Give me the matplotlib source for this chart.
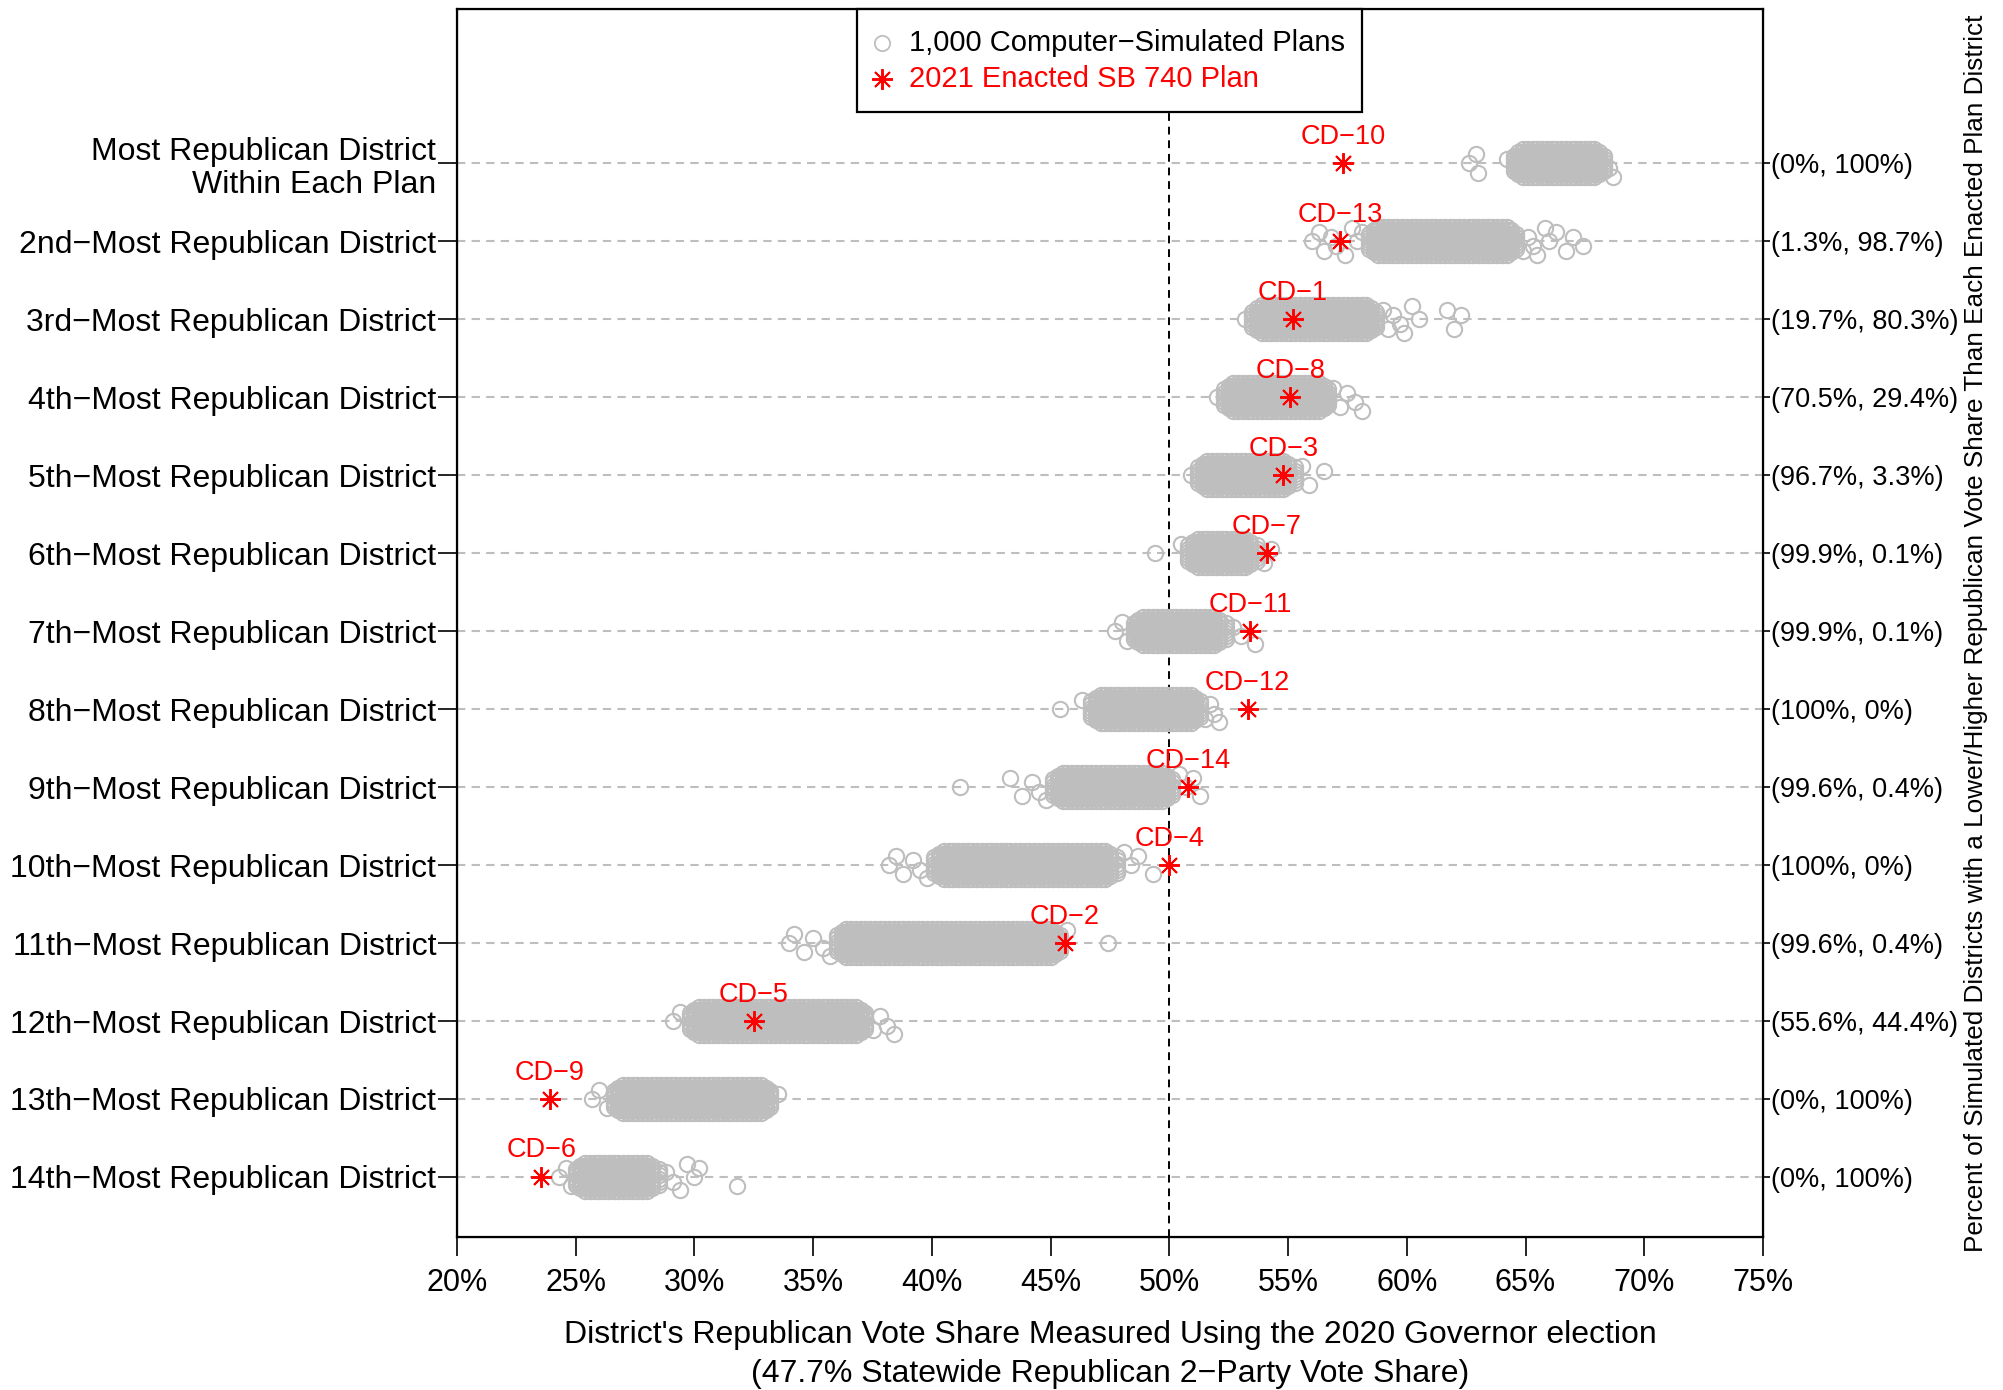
import matplotlib
matplotlib.use('Agg')
import matplotlib.pyplot as plt
from matplotlib.patches import Rectangle

plt.rcParams['font.family'] = ['Liberation Sans', 'DejaVu Sans']

# ---------------- data ----------------
row_labels = [
    "Most Republican District\nWithin Each Plan",
    "2nd\u2212Most Republican District",
    "3rd\u2212Most Republican District",
    "4th\u2212Most Republican District",
    "5th\u2212Most Republican District",
    "6th\u2212Most Republican District",
    "7th\u2212Most Republican District",
    "8th\u2212Most Republican District",
    "9th\u2212Most Republican District",
    "10th\u2212Most Republican District",
    "11th\u2212Most Republican District",
    "12th\u2212Most Republican District",
    "13th\u2212Most Republican District",
    "14th\u2212Most Republican District",
]
enacted_values = [57.3, 57.2, 55.2, 55.1, 54.8, 54.1, 53.4, 53.3, 50.8, 50.0, 45.6, 32.5, 23.9, 23.55]
enacted_labels = ["CD\u221210", "CD\u221213", "CD\u22121", "CD\u22128", "CD\u22123", "CD\u22127", "CD\u221211",
                  "CD\u221212", "CD\u221214", "CD\u22124", "CD\u22122", "CD\u22125", "CD\u22129", "CD\u22126"]
right_labels = ["(0%, 100%)", "(1.3%, 98.7%)", "(19.7%, 80.3%)", "(70.5%, 29.4%)", "(96.7%, 3.3%)",
                "(99.9%, 0.1%)", "(99.9%, 0.1%)", "(100%, 0%)", "(99.6%, 0.4%)", "(100%, 0%)",
                "(99.6%, 0.4%)", "(55.6%, 44.4%)", "(0%, 100%)", "(0%, 100%)"]
x_ticks = [20, 25, 30, 35, 40, 45, 50, 55, 60, 65, 70, 75]
x_tick_labels = ["20%", "25%", "30%", "35%", "40%", "45%", "50%", "55%", "60%", "65%", "70%", "75%"]
legend_labels = ["1,000 Computer\u2212Simulated Plans", "2021 Enacted SB 740 Plan"]

# simulated plans: dense core values and sparse outlying values per ranked district
sim_core_1 = [64.5, 64.7, 64.9, 65.1, 65.3, 65.5, 65.7, 65.9, 66.1, 66.3, 66.5, 66.7, 66.9, 67.1, 67.3,
              67.5, 67.7, 67.9, 68.1, 68.3]
sim_out_1 = [62.6, 62.9, 63.0, 64.2, 68.5, 68.7]
sim_core_2 = [58.4, 58.6, 58.8, 59.0, 59.2, 59.4, 59.6, 59.8, 60.0, 60.2, 60.4, 60.6, 60.8, 61.0, 61.2,
              61.4, 61.6, 61.8, 62.0, 62.2, 62.4, 62.6, 62.8, 63.0, 63.2, 63.4, 63.6, 63.8, 64.0, 64.2,
              64.4, 64.6]
sim_out_2 = [56.0, 56.3, 56.5, 56.8, 57.0, 57.4, 57.7, 57.9, 58.1, 64.9, 65.1, 65.3, 65.5, 65.8, 66.0,
             66.3, 66.7, 67.0, 67.4]
sim_core_3 = [53.5, 53.7, 53.9, 54.1, 54.3, 54.5, 54.7, 54.9, 55.1, 55.3, 55.5, 55.7, 55.9, 56.1, 56.3,
              56.5, 56.7, 56.9, 57.1, 57.3, 57.5, 57.7, 57.9, 58.1, 58.3, 58.5, 58.7]
sim_out_3 = [53.2, 59.0, 59.2, 59.4, 59.7, 59.9, 60.2, 60.5, 61.7, 62.0, 62.3]
sim_core_4 = [52.3, 52.5, 52.7, 52.9, 53.1, 53.3, 53.5, 53.7, 53.9, 54.1, 54.3, 54.5, 54.7, 54.9, 55.1,
              55.3, 55.5, 55.7, 55.9, 56.1, 56.3, 56.5, 56.7]
sim_out_4 = [52.0, 56.9, 57.2, 57.5, 57.8, 58.1]
sim_core_5 = [51.2, 51.4, 51.6, 51.8, 52.0, 52.2, 52.4, 52.6, 52.8, 53.0, 53.2, 53.4, 53.6, 53.8, 54.0,
              54.2, 54.4, 54.6, 54.8, 55.0, 55.3]
sim_out_5 = [50.9, 55.6, 55.9, 56.5]
sim_core_6 = [50.8, 51.0, 51.2, 51.4, 51.6, 51.8, 52.0, 52.2, 52.4, 52.6, 52.8, 53.0, 53.2, 53.4, 53.7]
sim_out_6 = [49.4, 50.5, 54.0, 54.3]
sim_core_7 = [48.5, 48.7, 48.9, 49.1, 49.3, 49.5, 49.7, 49.9, 50.1, 50.3, 50.5, 50.7, 50.9, 51.1, 51.3,
              51.5, 51.7, 51.9, 52.1, 52.4]
sim_out_7 = [47.7, 48.0, 48.2, 52.7, 53.0, 53.6]
sim_core_8 = [46.7, 46.9, 47.1, 47.3, 47.5, 47.7, 47.9, 48.1, 48.3, 48.5, 48.7, 48.9, 49.1, 49.3, 49.5,
              49.7, 49.9, 50.1, 50.3, 50.5, 50.7, 50.9, 51.1, 51.3]
sim_out_8 = [45.4, 46.3, 51.5, 51.7, 51.9, 52.1]
sim_core_9 = [45.1, 45.3, 45.5, 45.7, 45.9, 46.1, 46.3, 46.5, 46.7, 46.9, 47.1, 47.3, 47.5, 47.7, 47.9,
              48.1, 48.3, 48.5, 48.7, 48.9, 49.1, 49.3, 49.5, 49.7, 49.9, 50.1]
sim_out_9 = [41.2, 43.3, 43.8, 44.2, 44.5, 44.8, 50.4, 50.7, 51.0, 51.3]
sim_core_10 = [40.1, 40.3, 40.5, 40.7, 40.9, 41.1, 41.3, 41.5, 41.7, 41.9, 42.1, 42.3, 42.5, 42.7, 42.9,
               43.1, 43.3, 43.5, 43.7, 43.9, 44.1, 44.3, 44.5, 44.7, 44.9, 45.1, 45.3, 45.5, 45.7, 45.9,
               46.1, 46.3, 46.5, 46.7, 46.9, 47.1, 47.3, 47.5, 47.8]
sim_out_10 = [38.2, 38.5, 38.8, 39.2, 39.5, 39.8, 48.1, 48.4, 48.7, 49.3]
sim_core_11 = [36.0, 36.2, 36.4, 36.6, 36.8, 37.0, 37.2, 37.4, 37.6, 37.8, 38.0, 38.2, 38.4, 38.6, 38.8,
               39.0, 39.2, 39.4, 39.6, 39.8, 40.0, 40.2, 40.4, 40.6, 40.8, 41.0, 41.2, 41.4, 41.6, 41.8,
               42.0, 42.2, 42.4, 42.6, 42.8, 43.0, 43.2, 43.4, 43.6, 43.8, 44.0, 44.2, 44.4, 44.6, 44.8,
               45.0, 45.2, 45.4]
sim_out_11 = [34.0, 34.2, 34.6, 35.0, 35.4, 35.7, 45.7, 47.4]
sim_core_12 = [29.8, 30.0, 30.2, 30.4, 30.6, 30.8, 31.0, 31.2, 31.4, 31.6, 31.8, 32.0, 32.2, 32.4, 32.6,
               32.8, 33.0, 33.2, 33.4, 33.6, 33.8, 34.0, 34.2, 34.4, 34.6, 34.8, 35.0, 35.2, 35.4, 35.6,
               35.8, 36.0, 36.2, 36.4, 36.6, 36.8, 37.0, 37.2]
sim_out_12 = [29.1, 29.4, 37.5, 37.8, 38.1, 38.4]
sim_core_13 = [26.6, 26.8, 27.0, 27.2, 27.4, 27.6, 27.8, 28.0, 28.2, 28.4, 28.6, 28.8, 29.0, 29.2, 29.4,
               29.6, 29.8, 30.0, 30.2, 30.4, 30.6, 30.8, 31.0, 31.2, 31.4, 31.6, 31.8, 32.0, 32.2, 32.4,
               32.6, 32.8, 33.0, 33.2]
sim_out_13 = [25.7, 26.0, 26.3, 33.5]
sim_core_14 = [25.0, 25.2, 25.4, 25.6, 25.8, 26.0, 26.2, 26.4, 26.6, 26.8, 27.0, 27.2, 27.4, 27.6, 27.8,
               28.0, 28.2, 28.5]
sim_out_14 = [24.3, 24.6, 24.8, 28.8, 29.1, 29.4, 29.7, 30.0, 30.2, 31.8]

sim_core = [sim_core_1, sim_core_2, sim_core_3, sim_core_4, sim_core_5, sim_core_6, sim_core_7,
            sim_core_8, sim_core_9, sim_core_10, sim_core_11, sim_core_12, sim_core_13, sim_core_14]
sim_out = [sim_out_1, sim_out_2, sim_out_3, sim_out_4, sim_out_5, sim_out_6, sim_out_7,
           sim_out_8, sim_out_9, sim_out_10, sim_out_11, sim_out_12, sim_out_13, sim_out_14]

# ---------------- styling ----------------
W, H = 2003, 1390
fig = plt.figure(figsize=(W / 100, H / 100), dpi=100)
ax_l, ax_r, ax_t, ax_b = 457, 1763, 9, 1237
ax = fig.add_axes([ax_l / W, 1 - ax_b / H, (ax_r - ax_l) / W, (ax_b - ax_t) / H])

grey = '#BEBEBE'
rows = list(range(1, len(row_labels) + 1))
# (vertical lane offset, number of values trimmed at each end)
core_lanes = [(-0.18, 2), (-0.14, 1), (-0.10, 0), (-0.06, 0), (-0.02, 0), (0.02, 0),
              (0.06, 0), (0.10, 0), (0.14, 1), (0.18, 2)]
out_lanes = [0.0, -0.12, 0.12, -0.06, 0.06, 0.17, -0.17]
circ = dict(ls='none', marker='o', ms=11, mfc='none', mec=grey, mew=1.5, zorder=2)
star = dict(ls='none', marker=(8, 2, 0), ms=15, mec='red', mew=1.4, color='red', zorder=4)

for r in rows:
    ax.axhline(r, color=grey, lw=1.5, ls=(0, (4, 3)), zorder=0)
ax.axvline(50, color='black', lw=1.4, ls=(0, (4, 3)), zorder=1)

for r, core, out in zip(rows, sim_core, sim_out):
    for d, trim in core_lanes:
        vals = core[trim:len(core) - trim]
        ax.plot(vals, [r + d] * len(vals), **circ)
    for i, v in enumerate(out):
        ax.plot([v], [r + out_lanes[i % len(out_lanes)]], **circ)

ax.plot(enacted_values, rows, **star)
for r, v, lab in zip(rows, enacted_values, enacted_labels):
    ax.text(v, r - 0.25, lab, color='red', fontsize=19.5, ha='center', va='baseline', zorder=5)

ax.set_xlim(20, 75)
ax.set_ylim(14.77, -0.98)
ax.set_xticks(x_ticks)
ax.set_xticklabels(x_tick_labels, fontsize=22)
ax.set_yticks(rows)
ax.set_yticklabels(row_labels, fontsize=23, linespacing=1.15)
ax.tick_params(axis='x', length=14, width=1.2, pad=8)
ax.tick_params(axis='y', length=14, width=1.2, pad=1)
for s in ax.spines.values():
    s.set_linewidth(1.6)

ax2 = ax.twinx()
ax2.set_ylim(ax.get_ylim())
ax2.set_yticks(rows)
ax2.set_yticklabels(right_labels, fontsize=19.5)
ax2.tick_params(axis='y', length=5, width=1.2, pad=1)


# legend box drawn by hand (pixel layout of the reference)
def fx(px):
    return (px - ax_l) / (ax_r - ax_l)


def fy(py):
    return (ax_b - py) / (ax_b - ax_t)


ax.add_patch(Rectangle((fx(857), fy(112)), fx(1362) - fx(857), fy(9) - fy(112),
                       transform=ax.transAxes, facecolor='white', edgecolor='black',
                       lw=1.6, zorder=10, clip_on=False))
ax.plot([fx(882)], [fy(43)], transform=ax.transAxes, clip_on=False,
        **dict(circ, zorder=11, mew=1.3))
ax.plot([fx(882)], [fy(79)], transform=ax.transAxes, clip_on=False, **dict(star, zorder=11))
ax.text(fx(909), fy(43), legend_labels[0], transform=ax.transAxes, fontsize=21, color='black',
        ha='left', va='center', zorder=11)
ax.text(fx(909), fy(79), legend_labels[1], transform=ax.transAxes, fontsize=21, color='red',
        ha='left', va='center', zorder=11)

cx = (ax_l + ax_r) / 2 / W
fig.text(cx, 1 - 1335 / H, "District's Republican Vote Share Measured Using the 2020 Governor election",
         ha='center', va='center', fontsize=23)
fig.text(cx, 1 - 1374 / H, "(47.7% Statewide Republican 2\u2212Party Vote Share)",
         ha='center', va='center', fontsize=23)
fig.text(1976 / W, 1 - 1252 / H,
         "Percent of Simulated Districts with a Lower/Higher Republican Vote Share Than Each Enacted Plan District",
         rotation=90, ha='center', va='bottom', fontsize=18.8)

fig.savefig('out.png', dpi=100)
